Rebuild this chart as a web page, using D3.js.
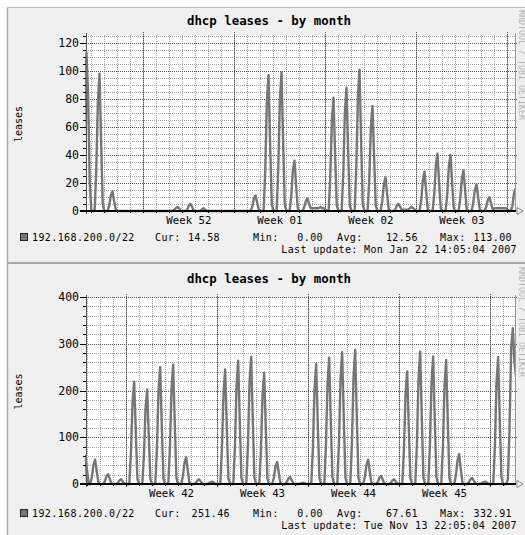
<!DOCTYPE html>
<html><head><meta charset="utf-8">
<script src="https://cdn.jsdelivr.net/npm/d3@7/dist/d3.min.js"></script>
<style>body{margin:0;background:#fff}svg{display:block}</style>
</head><body>
<svg id="c" width="525" height="535"></svg>
<script>
const chartTitle = "dhcp leases - by month";
const yAxisLabel = "leases";
const networkName = "192.168.200.0/22";
const creditText = "RRDTOOL / TOBI OETIKER";
const statLabels = ["Cur:", "Min:", "Avg:", "Max:"];
const stepHours = 3;

// ---- Chart 1 (January 2007) : values every 3 hours from start ----
const janStart = "2006-12-20T00:00:00Z";
const janEnd = "2007-01-22T14:05:04Z";
const janValues = [
  0,0,0,30,85,113,82,20,   // Dec 20
  0,0,0,29,78,98,49,5,     // Dec 21
  0,0,0,4,11,14,7,1,       // Dec 22
  0,0,0,0,0,0,0,0,         // Dec 23
  0,0,0,0,0,0,0,0,         // Dec 24
  0,0,0,0,0,0,0,0,         // Dec 25
  0,0,0,0,0,0,0,0,         // Dec 26
  0,0,0,1,2,3,2,0,         // Dec 27
  0,0,0,1,4,5,3,0,         // Dec 28
  0,0,0,0,1,2,1,0,         // Dec 29
  0,0,0,0,0,0,0,0,         // Dec 30
  0,0,0,0,0,0,0,0,         // Dec 31
  0,0,0,0,0,0,0,0,         // Jan 01
  0,0,0,3,9,11,6,1,        // Jan 02
  0,0,0,29,78,97,48,5,     // Jan 03
  0,0,0,30,79,99,50,5,     // Jan 04
  0,0,0,11,29,36,18,2,     // Jan 05
  0,0,0,3,7,9,5,2,         // Jan 06
  2,2,2,2,2,3,2,2,         // Jan 07
  1,0,0,24,65,81,40,4,     // Jan 08
  0,0,0,26,70,88,44,4,     // Jan 09
  0,0,0,30,81,101,50,5,    // Jan 10
  0,0,0,22,60,75,38,4,     // Jan 11
  0,0,0,7,19,24,12,1,      // Jan 12
  0,0,0,1,4,5,3,1,         // Jan 13
  1,1,1,1,2,3,2,1,         // Jan 14
  0,0,0,8,22,28,14,1,      // Jan 15
  0,0,0,12,33,41,20,2,     // Jan 16
  0,0,0,12,32,40,20,2,     // Jan 17
  0,0,0,9,23,29,15,1,      // Jan 18
  0,0,0,6,15,19,10,1,      // Jan 19
  0,0,0,3,8,10,5,1,        // Jan 20
  2,2,2,2,2,2,2,2,         // Jan 21
  1,0,0,3,12,16            // Jan 22
];
const janYTicks = [0, 20, 40, 60, 80, 100, 120];
const janStatValues = ["14.58", "0.00", "12.56", "113.00"];
const janUpdate = "Last update: Mon Jan 22 14:05:04 2007";

// ---- Chart 2 (November 2007) ----
const novStart = "2007-10-11T00:00:00Z";
const novEnd = "2007-11-13T22:05:04Z";
const novValues = [
  0,0,0,0,0,0,0,60,            // Oct 11
  30,0,0,16,42,52,26,3,        // Oct 12
  0,0,0,6,17,21,11,1,          // Oct 13
  0,0,0,3,8,10,5,1,            // Oct 14
  0,0,0,66,175,219,110,11,     // Oct 15
  0,0,0,61,162,202,101,10,     // Oct 16
  0,0,0,75,200,250,125,12,     // Oct 17
  0,0,0,77,204,255,128,13,     // Oct 18
  0,0,0,17,46,57,29,3,         // Oct 19
  0,0,0,3,8,10,5,1,            // Oct 20
  0,0,0,2,4,5,3,0,             // Oct 21
  0,0,0,74,196,245,122,12,     // Oct 22
  0,0,0,79,211,264,132,13,     // Oct 23
  0,0,0,82,218,272,136,14,     // Oct 24
  0,0,0,71,190,238,119,12,     // Oct 25
  0,0,0,14,38,47,24,2,         // Oct 26
  0,0,0,5,12,15,8,1,           // Oct 27
  0,0,0,1,2,3,2,0,             // Oct 28
  0,0,0,77,205,256,128,13,     // Oct 29
  0,0,0,81,216,270,135,14,     // Oct 30
  0,0,0,85,226,282,141,14,     // Oct 31
  0,0,0,86,230,287,144,14,     // Nov 01
  0,0,0,16,42,52,26,3,         // Nov 02
  0,0,0,5,14,17,9,1,           // Nov 03
  0,0,0,3,8,10,5,1,            // Nov 04
  0,0,0,72,193,241,121,12,     // Nov 05
  0,0,0,85,226,283,142,14,     // Nov 06
  0,0,0,82,218,273,137,14,     // Nov 07
  0,0,0,80,212,265,133,13,     // Nov 08
  0,0,0,19,51,64,32,3,         // Nov 09
  0,0,0,4,10,13,7,1,           // Nov 10
  0,0,0,2,4,5,3,0,             // Nov 11
  0,0,0,82,218,272,136,14,     // Nov 12
  0,0,0,10,120,290,333,262,    // Nov 13
  230                          // Nov 14
];
const novYTicks = [0, 100, 200, 300, 400];
const novStatValues = ["251.46", "0.00", "67.61", "332.91"];
const novUpdate = "Last update: Tue Nov 13 22:05:04 2007";

const MONO = "'DejaVu Sans Mono', 'Liberation Mono', monospace";
const svg = d3.select("#c");

function drawChart(c) {
  const g = svg.append("g");
  const start = new Date(c.start), end = new Date(c.end);
  const x0 = 86, x1 = 515;
  const x = d3.scaleUtc().domain([d3.utcDay.offset(end, -33), end]).range([x0, x1]);
  const y = d3.scaleLinear().domain([0, c.yMax]).range([c.plotBottom, c.plotTop]);

  g.append("rect").attr("x", 7).attr("y", c.panelTop).attr("width", 518)
    .attr("height", c.panelBottom - c.panelTop).attr("fill", "#f0f0f0");
  g.append("rect").attr("x", x0).attr("y", c.plotTop).attr("width", x1 - x0)
    .attr("height", c.plotBottom - c.plotTop).attr("fill", "#fff");

  const [d0, d1] = x.domain();
  const minorCol = "#a4a4a4", majorCol = "#555";
  // minor vertical grid (days)
  g.selectAll(null).data(d3.utcDay.range(d0, d1)).join("line")
    .attr("x1", d => Math.round(x(d)) + 0.5).attr("x2", d => Math.round(x(d)) + 0.5)
    .attr("y1", c.plotTop).attr("y2", c.plotBottom)
    .attr("stroke", minorCol).attr("stroke-dasharray", "1,1");
  // minor horizontal grid
  g.selectAll(null).data(d3.range(c.minorStep, c.yMax + 0.001, c.minorStep)).join("line")
    .attr("x1", x0).attr("x2", x1)
    .attr("y1", d => Math.round(y(d)) + 0.5).attr("y2", d => Math.round(y(d)) + 0.5)
    .attr("stroke", minorCol).attr("stroke-dasharray", "1,1");
  // major vertical grid (weeks)
  const weeks = d3.utcMonday.range(d0, d1);
  g.selectAll(null).data(weeks).join("line")
    .attr("x1", d => Math.round(x(d)) + 0.5).attr("x2", d => Math.round(x(d)) + 0.5)
    .attr("y1", c.plotTop - 3).attr("y2", c.plotBottom + 3)
    .attr("stroke", majorCol).attr("stroke-dasharray", "1,1");
  // major horizontal grid
  g.selectAll(null).data(c.yTicks.filter(v => v > 0)).join("line")
    .attr("x1", x0).attr("x2", x1 + 3)
    .attr("y1", d => Math.round(y(d)) + 0.5).attr("y2", d => Math.round(y(d)) + 0.5)
    .attr("stroke", majorCol).attr("stroke-dasharray", "1,1");

  // left axis
  g.append("line").attr("x1", x0 + 0.5).attr("x2", x0 + 0.5)
    .attr("y1", c.plotTop - 2).attr("y2", c.plotBottom + 3).attr("stroke", "#555");

  // data line
  const pts = c.values.map((v, i) => [d3.utcHour.offset(start, i * stepHours), v]);
  const clipId = "clip" + c.id;
  g.append("clipPath").attr("id", clipId).append("rect")
    .attr("x", x0 - 1).attr("y", c.plotTop - 2).attr("width", x1 - x0 + 1).attr("height", c.plotBottom - c.plotTop + 4);
  g.append("path").attr("clip-path", `url(#${clipId})`)
    .attr("d", d3.line().x(d => x(d[0])).y(d => y(d[1]))(pts))
    .attr("fill", "none").attr("stroke", "#767676").attr("stroke-width", 2.4)
    .attr("stroke-linejoin", "round");

  g.append("line").attr("x1", x1 + 0.5).attr("x2", x1 + 0.5)
    .attr("y1", c.plotTop - 2).attr("y2", c.plotBottom).attr("stroke", "#999");
  g.append("line").attr("x1", 80).attr("x2", x1 + 1)
    .attr("y1", c.plotBottom).attr("y2", c.plotBottom).attr("stroke", "#000").attr("stroke-width", 2);
  g.append("path")
    .attr("d", `M${x1 + 2},${c.plotBottom - 3.5}L${x1 + 8},${c.plotBottom}L${x1 + 2},${c.plotBottom + 3.5}Z`)
    .attr("fill", "none").attr("stroke", "#888");
  // y ticks
  g.selectAll(null).data(d3.range(0, c.yMax + 0.001, c.minorStep)).join("line")
    .attr("x1", x0 - 3).attr("x2", x0)
    .attr("y1", d => Math.round(y(d)) + 0.5).attr("y2", d => Math.round(y(d)) + 0.5).attr("stroke", "#000");
  g.selectAll(null).data(c.yTicks).join("line")
    .attr("x1", x0 - 6).attr("x2", x0)
    .attr("y1", d => Math.round(y(d)) + 0.5).attr("y2", d => Math.round(y(d)) + 0.5).attr("stroke", "#000");
  g.selectAll(null).data(c.yTicks).join("text")
    .attr("x", 79).attr("y", d => y(d) + 4).attr("text-anchor", "end")
    .attr("font-family", MONO).attr("font-size", 11.5).attr("fill", "#000").text(d => d);
  // x ticks
  g.selectAll(null).data(d3.utcDay.range(d0, d1)).join("line")
    .attr("x1", d => Math.round(x(d)) + 0.5).attr("x2", d => Math.round(x(d)) + 0.5)
    .attr("y1", c.plotBottom).attr("y2", c.plotBottom + 2).attr("stroke", "#000");
  // week labels (centred on each week)
  const fmt = d3.utcFormat("Week %V");
  const labels = weeks.concat([d3.utcMonday.offset(weeks[0], -1)])
    .map(w => ({ w, cx: x(d3.utcHour.offset(w, 84)) }))
    .filter(o => o.cx > x0 + 25 && o.cx < x1 - 25);
  g.selectAll(null).data(labels).join("text")
    .attr("x", d => d.cx).attr("y", c.weekY).attr("text-anchor", "middle")
    .attr("font-family", MONO).attr("font-size", 10.7).text(d => fmt(d.w));

  // title
  g.append("text").attr("x", 269).attr("y", c.titleY).attr("text-anchor", "middle")
    .attr("font-family", MONO).attr("font-weight", "bold").attr("font-size", 12.4).text(chartTitle);
  // y label
  const cy = (c.plotTop + c.plotBottom) / 2 + 1;
  g.append("text").attr("transform", `translate(22,${cy}) rotate(-90)`).attr("text-anchor", "middle")
    .attr("font-family", MONO).attr("font-size", 10).text(yAxisLabel);
  // credit
  g.append("text").attr("transform", `translate(519,${c.panelTop + 3}) rotate(90)`)
    .attr("font-family", MONO).attr("font-size", 8).attr("fill", "#b4b4b4")
    .attr("textLength", 110).attr("lengthAdjust", "spacingAndGlyphs").text(creditText);

  // legend
  g.append("rect").attr("x", 20.5).attr("y", c.legendY - 7.5).attr("width", 7).attr("height", 7)
    .attr("fill", "#777").attr("stroke", "#222");
  const fs = 10;
  const txt = (xp, s, anchor) => g.append("text").attr("x", xp).attr("y", c.legendY)
    .attr("text-anchor", anchor || "start").attr("font-family", MONO).attr("font-size", fs)
    .attr("letter-spacing", 0.4).text(s);
  txt(32, networkName);
  txt(155, statLabels[0]); txt(c.curEnd, c.stats[0], "end");
  txt(253, statLabels[1]); txt(323, c.stats[1], "end");
  txt(337, statLabels[2]); txt(418, c.stats[2], "end");
  txt(440, statLabels[3]); txt(512, c.stats[3], "end");
  g.append("text").attr("x", 517).attr("y", c.updateY).attr("text-anchor", "end")
    .attr("font-family", MONO).attr("font-size", fs).attr("letter-spacing", 0.35).text(c.update);
}

drawChart({ id: 1, start: janStart, end: janEnd, values: janValues, yMax: 125.7, minorStep: 5,
  yTicks: janYTicks, stats: janStatValues, update: janUpdate, curEnd: 220,
  panelTop: 7, panelBottom: 263, plotTop: 35, plotBottom: 211,
  titleY: 25, weekY: 224, legendY: 241, updateY: 253 });
drawChart({ id: 2, start: novStart, end: novEnd, values: novValues, yMax: 400, minorStep: 20,
  yTicks: novYTicks, stats: novStatValues, update: novUpdate, curEnd: 230,
  panelTop: 264, panelBottom: 535, plotTop: 297, plotBottom: 484,
  titleY: 283, weekY: 497, legendY: 517, updateY: 529 });

// frame lines
svg.append("line").attr("x1", 7.5).attr("x2", 7.5).attr("y1", 7).attr("y2", 535)
  .attr("stroke", "#a8a8a8").attr("stroke-width", 1.5);
svg.append("line").attr("x1", 7).attr("x2", 525).attr("y1", 7.5).attr("y2", 7.5)
  .attr("stroke", "#b8b8b8").attr("stroke-width", 1);
svg.append("line").attr("x1", 7).attr("x2", 525).attr("y1", 263).attr("y2", 263)
  .attr("stroke", "#a8a8a8").attr("stroke-width", 2);
</script>
</body></html>
